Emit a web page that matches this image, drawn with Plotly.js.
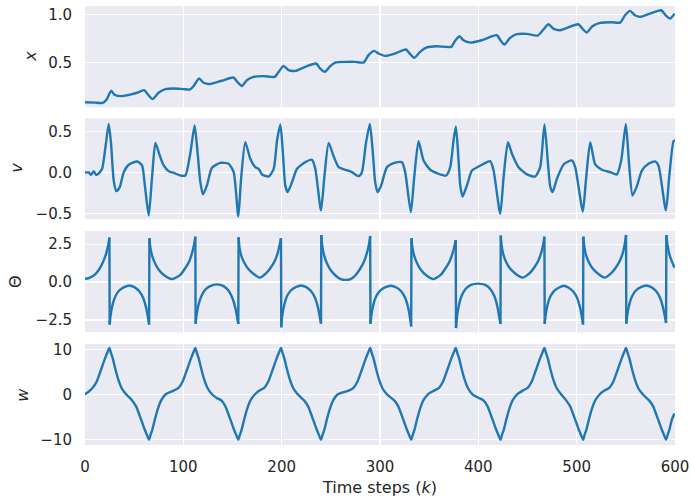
<!DOCTYPE html>
<html>
<head>
<meta charset="utf-8">
<script src="https://cdn.plot.ly/plotly-3.0.1.min.js"></script>
<style>html,body{margin:0;padding:0;background:#fff;}#chart{width:691px;height:498px;}</style>
</head>
<body>
<div id="chart"></div>
<script>
// ---- position x ----
const xK = [0,10,18,22,26.5,30,37,46,53,60,64.5,68.8,74.8,81.8,90,100,107,110.5,116,120.6,127,139,151,155,159.6,164.6,171.5,181.6,193,197,202,207,214,224,235,239.2,244,249.4,254.5,265,275,283.3,288.3,294,298.5,305.3,315.4,326.3,330.7,334.8,340.8,347.6,357.8,372.4,376.4,380.8,384.9,391.7,403.5,418.8,422.9,426.6,432.3,439.1,449.3,460.5,466.2,471.3,476.3,483.1,501.7,505.8,510.3,516,523.8,535.7,544.1,549.2,554.3,559.3,564.4,574.6,585.8,590.5,595,599.5];
const xVal = [0.092,0.088,0.085,0.12,0.21,0.17,0.155,0.17,0.19,0.217,0.165,0.124,0.19,0.228,0.234,0.228,0.224,0.26,0.338,0.293,0.28,0.314,0.348,0.30,0.26,0.32,0.355,0.362,0.355,0.407,0.469,0.424,0.417,0.459,0.493,0.44,0.407,0.466,0.503,0.51,0.51,0.503,0.58,0.624,0.597,0.572,0.597,0.638,0.59,0.552,0.614,0.659,0.672,0.666,0.728,0.776,0.734,0.71,0.734,0.786,0.728,0.69,0.759,0.797,0.80,0.783,0.845,0.90,0.855,0.838,0.90,0.855,0.814,0.879,0.914,0.921,0.917,0.993,1.038,0.993,0.976,1.01,1.045,0.993,0.959,1.01];

// ---- velocity v ----
const vK = [0,3.8,6.2,8.9,11.3,14,17.4,20.8,24.1,26.5,29.2,31.9,35.3,39.4,44.4,53,58,60.7,64.8,68.2,71.6,76,80,85.1,90.2,97,102,107,111.5,114.6,117.3,120,124,129.1,137.6,146,151.2,155.9,158.6,163,168.1,173.2,176.6,180,186.8,191.9,195.3,198.7,201.3,203.7,206.1,210.5,215.6,224.1,230.9,234.2,240,243.4,247.8,252.9,258,264.8,271.4,278.2,281.6,285.6,289.7,292.8,295.1,297.5,301.2,307,313.8,322.2,325.6,331.4,334.8,339.2,344.3,351.1,359.5,367.3,371.4,374.8,377.2,379.9,381.6,384,388.4,393.5,400.2,405.3,412.1,415.5,422.3,425.7,430.1,434.2,440.9,449.4,457.9,462.9,467.3,470.7,473.1,475.5,479.9,486.7,495.1,498.5,506.3,509.4,513.8,518.9,525.6,534.1,540.9,545.3,550,553.4,556.8,561.2,566.3,573.1,579.8,583.2,590.7,594.1,598.5,600];
const vVal = [0.0,0.0,-0.03,0.016,-0.03,-0.01,0.045,0.31,0.596,0.35,-0.098,-0.229,-0.18,0.004,0.094,0.135,0.086,-0.139,-0.527,-0.057,0.363,0.208,0.086,0.016,-0.004,-0.037,-0.037,0.229,0.576,0.229,-0.118,-0.269,-0.159,0.057,0.118,0.106,0.004,-0.539,-0.098,0.371,0.167,0.065,0.045,-0.024,-0.049,0.045,0.392,0.588,0.229,-0.159,-0.241,-0.118,0.045,0.127,0.155,0.045,-0.465,-0.057,0.363,0.196,0.065,0.033,0.004,-0.045,0.004,0.351,0.596,0.229,-0.118,-0.241,-0.159,0.065,0.114,0.127,0.004,-0.486,-0.057,0.384,0.147,0.033,-0.016,-0.037,0.065,0.392,0.563,0.147,-0.159,-0.294,-0.159,0.024,0.073,0.106,0.139,0.024,-0.506,-0.057,0.371,0.229,0.065,-0.024,-0.049,0.065,0.588,0.127,-0.171,-0.241,-0.078,0.098,0.147,0.065,-0.478,-0.098,0.371,0.098,0.033,0.004,-0.024,0.147,0.596,0.086,-0.282,-0.171,0.024,0.106,0.135,0.086,-0.465,-0.057,0.384,0.392];

// ---- angle Theta (null = wrap-around from +pi to -pi) ----
const thK = [0,5,10,14,17,20,22,23.6,24.8,null,25.1,26.0,27.8,30.8,34.8,39.8,45,50.2,55.2,59.2,62.2,64.0,65.2,null,65.5,66.4,68.2,71.2,75.2,80.2,88.7,97.2,102.2,106.2,109.2,111.0,112.2,null,112.5,113.4,115.2,118.2,122.2,127.2,134,140.9,145.9,149.9,152.9,154.7,155.9,null,156.2,157.1,158.9,161.9,165.9,170.9,177.6,184.3,189.3,193.3,196.3,198.1,199.3,null,199.6,200.5,202.3,205.3,209.3,214.3,219.6,225,230,234,237,238.8,240,null,240.3,241.2,243,246,250,255,260,265,270,275,280,284,287,288.8,290,null,290.3,291.2,293,296,300,305,310.9,316.7,321.7,325.7,328.7,330.5,331.7,null,332.0,332.9,334.7,337.7,341.7,346.7,354.4,362,367,371,374,375.8,377,null,377.3,378.2,380,383,387,392,399.8,407.5,412.5,416.5,419.5,421.3,422.5,null,422.8,423.7,425.5,428.5,432.5,437.5,444.9,452.2,457.2,461.2,464.2,466.0,467.2,null,467.5,468.4,470.2,473.2,477.2,482.2,486.9,491.5,496.5,500.5,503.5,505.3,506.5,null,506.8,507.7,509.5,512.5,516.5,521.5,528.4,535.2,540.2,544.2,547.2,549.0,550.2,null,550.5,551.4,553.2,556.2,560.2,565.2,570.6,575.9,580.9,584.9,587.9,589.7,590.9,null,591.2,592.4,594.2,597.2,599.5];
const thVal = [0.2,0.3,0.5,0.8,1.15,1.6,2.0,2.45,2.94,null,-2.8,-2.2,-1.55,-0.95,-0.55,-0.33,-0.22,-0.33,-0.6,-1.05,-1.7,-2.3,-2.8,null,2.9,2.3,1.75,1.25,0.8,0.47,0.2,0.5,0.95,1.4,2.0,2.5,3.0,null,-2.76,-2.2,-1.55,-0.95,-0.5,-0.26,-0.15,-0.26,-0.55,-1.05,-1.7,-2.3,-2.76,null,2.96,2.3,1.75,1.3,0.88,0.57,0.3,0.6,1.0,1.45,2.0,2.5,2.9,null,-2.98,-2.25,-1.6,-0.95,-0.55,-0.33,-0.22,-0.33,-0.6,-1.05,-1.7,-2.3,-2.74,null,3.11,2.4,1.8,1.25,0.78,0.42,0.2,0.15,0.2,0.45,0.9,1.4,2.0,2.5,3.05,null,-2.76,-2.2,-1.55,-0.95,-0.57,-0.35,-0.24,-0.35,-0.62,-1.05,-1.7,-2.35,-2.92,null,2.9,2.3,1.75,1.25,0.8,0.47,0.2,0.5,0.95,1.4,1.95,2.4,2.78,null,-3.03,-2.3,-1.6,-0.9,-0.45,-0.2,-0.1,-0.2,-0.48,-0.95,-1.65,-2.3,-2.76,null,3.07,2.4,1.8,1.3,0.88,0.57,0.3,0.6,1.0,1.45,2.0,2.5,3.0,null,-2.76,-2.2,-1.55,-0.95,-0.57,-0.35,-0.24,-0.35,-0.62,-1.05,-1.7,-2.3,-2.8,null,3.0,2.35,1.8,1.3,0.88,0.57,0.3,0.6,1.0,1.45,2.0,2.55,3.11,null,-2.74,-2.2,-1.55,-0.95,-0.55,-0.33,-0.22,-0.33,-0.6,-1.05,-1.7,-2.25,-2.7,null,3.11,2.45,1.85,1.3,0.95];

// ---- angular velocity w ----
const wK = [0,3,7.8,11.8,14.8,17.8,20.3,22.8,24.8,26.3,28.3,30.8,33.8,37.3,41.8,48.1,52.1,55.1,58.1,60.6,63.1,65.1,66.6,68.6,71.1,74.1,77.6,82.1,90.2,95.2,99.2,102.2,105.2,107.7,110.2,112.2,113.7,115.7,118.2,121.2,124.7,129.2,133.9,138.9,142.9,145.9,148.9,151.4,153.9,155.9,157.4,159.4,161.9,164.9,168.4,172.9,177.3,182.3,186.3,189.3,192.3,194.8,197.3,199.3,200.8,202.8,205.3,208.3,211.8,216.3,223,227,230,233,235.5,238,240,241.5,243.5,246,249,252.5,257,268,273,277,280,283,285.5,288,290,291.5,293.5,296,299,302.5,307,314.7,318.7,321.7,324.7,327.2,329.7,331.7,333.2,335.2,337.7,340.7,344.2,348.7,355,360,364,367,370,372.5,375,377,378.5,380.5,383,386,389.5,394,400.5,405.5,409.5,412.5,415.5,418,420.5,422.5,424,426,428.5,431.5,435,439.5,445.2,450.2,454.2,457.2,460.2,462.7,465.2,467.2,468.7,470.7,473.2,476.2,479.7,484.2,489.5,493.5,496.5,499.5,502,504.5,506.5,508,510,512.5,515.5,519,523.5,528.2,533.2,537.2,540.2,543.2,545.7,548.2,550.2,551.7,553.7,556.2,559.2,562.7,567.2,573.9,577.9,580.9,583.9,586.4,588.9,590.9,592.4,594.4,596.9,599.5];
const wVal = [0,0.45,1.44,2.78,4.53,6.39,7.93,9.27,10.3,9.27,7.93,5.67,3.30,1.34,0,-1.41,-2.73,-4.44,-6.26,-7.78,-9.09,-10.1,-9.09,-7.78,-5.56,-3.23,-1.31,0,0.82,1.44,2.78,4.53,6.39,7.93,9.27,10.3,9.27,7.93,5.67,3.30,1.34,0,-0.81,-1.41,-2.73,-4.44,-6.26,-7.78,-9.09,-10.1,-9.09,-7.78,-5.56,-3.23,-1.31,0,0.82,1.44,2.78,4.53,6.39,7.93,9.27,10.3,9.27,7.93,5.67,3.30,1.34,0,-1.41,-2.73,-4.44,-6.26,-7.78,-9.09,-10.1,-9.09,-7.78,-5.56,-3.23,-1.31,0,0.82,1.44,2.78,4.53,6.39,7.93,9.27,10.3,9.27,7.93,5.67,3.30,1.34,0,-1.41,-2.73,-4.44,-6.26,-7.78,-9.09,-10.1,-9.09,-7.78,-5.56,-3.23,-1.31,0,0.82,1.44,2.78,4.53,6.39,7.93,9.27,10.3,9.27,7.93,5.67,3.30,1.34,0,-0.81,-1.41,-2.73,-4.44,-6.26,-7.78,-9.09,-10.1,-9.09,-7.78,-5.56,-3.23,-1.31,0,0.82,1.44,2.78,4.53,6.39,7.93,9.27,10.3,9.27,7.93,5.67,3.30,1.34,0,-1.41,-2.73,-4.44,-6.26,-7.78,-9.09,-10.1,-9.09,-7.78,-5.56,-3.23,-1.31,0,0.82,1.44,2.78,4.53,6.39,7.93,9.27,10.3,9.27,7.93,5.67,3.30,1.34,0,-1.41,-2.73,-4.44,-6.26,-7.78,-9.09,-10.1,-9.09,-7.78,-5.56,-4.3];

// ---- ticks / labels ----
const xTicks = [0,100,200,300,400,500,600];
const xTickText = ['0','100','200','300','400','500','600'];
const yTicks1 = [0.5,1.0], yText1 = ['0.5','1.0'];
const yTicks2 = [-0.5,0,0.5], yText2 = ['\u22120.5','0.0','0.5'];
const yTicks3 = [-2.5,0,2.5], yText3 = ['\u22122.5','0.0','2.5'];
const yTicks4 = [-10,0,10], yText4 = ['\u221210','0','10'];
const yLabels = ['<i>x</i>','<i>v</i>','\u0398','<i>w</i>'];
const xLabel = 'Time steps (<i>k</i>)';

const lineColor = '#1f77b4';
const txt = '#262626';
const bg = '#EAEAF2';

function ax(n) { return n === 1 ? '' : String(n); }
function tr(k, v, n, shape) {
  return {x: k, y: v, type: 'scatter', mode: 'lines', xaxis: 'x' + ax(n), yaxis: 'y' + ax(n),
          connectgaps: false, line: {color: lineColor, width: 2.4, shape: shape, smoothing: 0.6}, hoverinfo: 'skip'};
}
// vertical wrap segments of Theta, taken from the points on either side of each gap
const jumpK = [], jumpV = [];
for (let i = 1; i < thK.length - 1; i++) {
  if (thK[i] === null) { jumpK.push(thK[i - 1], thK[i + 1], null); jumpV.push(thVal[i - 1], thVal[i + 1], null); }
}
const data = [
  tr(xK, xVal, 1, 'spline'),
  tr(vK, vVal, 2, 'spline'),
  tr(thK, thVal, 3, 'spline'),
  tr(jumpK, jumpV, 3, 'linear'),
  tr(wK, wVal, 4, 'spline')
];

function xa(n, labels) {
  const a = {domain: [0, 1], anchor: 'y' + ax(n), range: [0, 600], tickvals: xTicks, ticktext: xTickText,
    showticklabels: labels, showgrid: true, gridcolor: '#ffffff', gridwidth: 1.3, zeroline: false, showline: false,
    ticks: 'outside', ticklen: 8, tickcolor: 'rgba(0,0,0,0)', tickfont: {size: 15, color: txt}};
  if (n !== 4) a.matches = 'x4';
  if (labels) a.title = {text: xLabel, font: {size: 16, color: txt}, standoff: 6};
  return a;
}
function ya(n, dom, rng, tv, tt) {
  return {domain: dom, anchor: 'x' + ax(n), range: rng, tickvals: tv, ticktext: tt,
    showgrid: true, gridcolor: '#ffffff', gridwidth: 1.3, zeroline: false, showline: false,
    ticks: 'outside', ticklen: 9, tickcolor: 'rgba(0,0,0,0)', tickfont: {size: 15, color: txt}};
}
const labX = [-0.0915, -0.1158, -0.1169, -0.1056];
const labY = [0.8845, 0.631, 0.3713, 0.1139];
const annotations = yLabels.map((t, i) => ({text: t, xref: 'paper', yref: 'paper', x: labX[i], y: labY[i],
  xanchor: 'center', yanchor: 'middle', textangle: -90, showarrow: false, font: {size: 16, color: txt}}));

const layout = {
  width: 691, height: 498,
  margin: {l: 85, r: 16, t: 6, b: 53},
  paper_bgcolor: '#ffffff', plot_bgcolor: bg,
  font: {family: 'DejaVu Sans', color: txt},
  showlegend: false,
  annotations: annotations,
  xaxis: xa(1, false), xaxis2: xa(2, false), xaxis3: xa(3, false), xaxis4: xa(4, true),
  yaxis: ya(1, [0.7692, 1.0], [0.039, 1.089], yTicks1, yText1),
  yaxis2: ya(2, [0.5141, 0.7442], [-0.574, 0.664], yTicks2, yText2),
  yaxis3: ya(3, [0.2567, 0.4875], [-3.31, 3.375], yTicks3, yText3),
  yaxis4: ya(4, [0, 0.2301], [-11.27, 11.18], yTicks4, yText4)
};

Plotly.newPlot('chart', data, layout, {displayModeBar: false, staticPlot: true});
</script>
</body>
</html>
